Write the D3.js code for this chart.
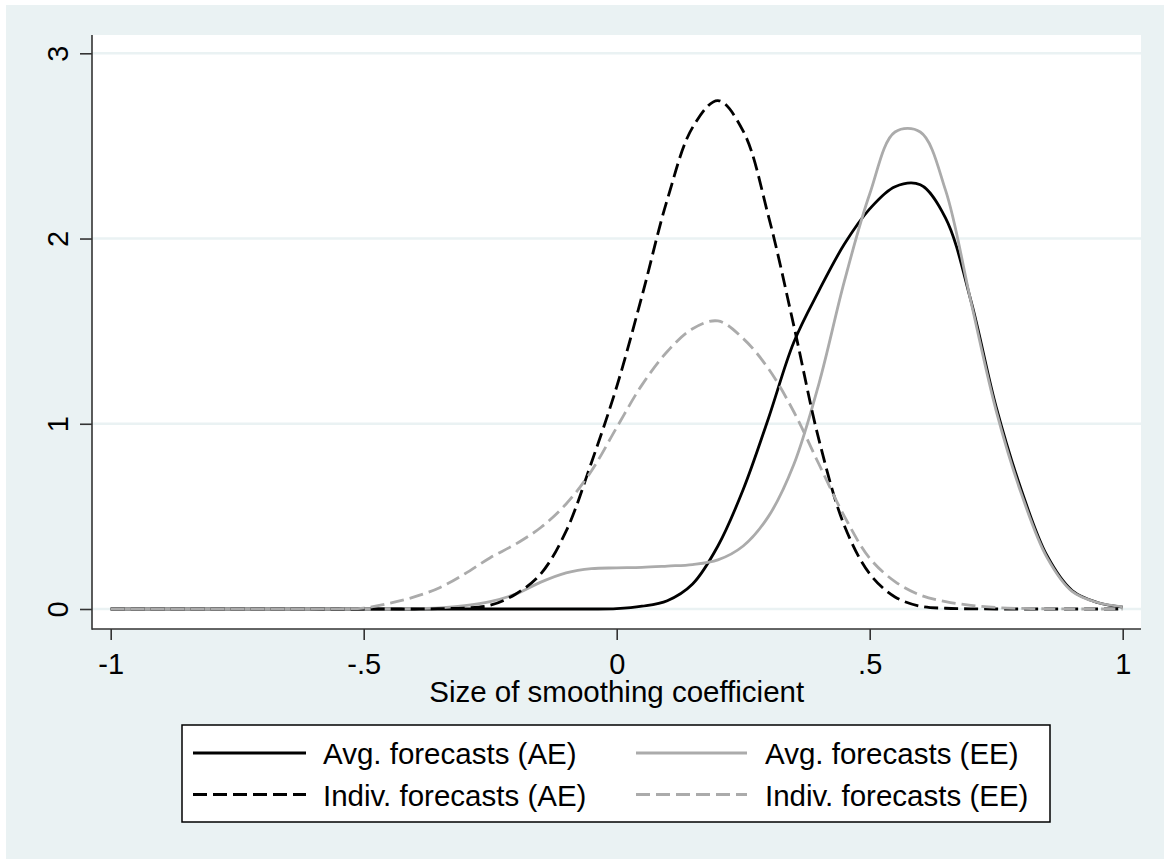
<!DOCTYPE html>
<html>
<head>
<meta charset="utf-8">
<script src="https://cdn.jsdelivr.net/npm/d3@7"></script>
<style>
html,body{margin:0;padding:0;background:#ffffff;}
svg{display:block;}
text{font-family:"Liberation Sans",Arial,Helvetica,sans-serif;fill:#000;}
</style>
</head>
<body>
<svg id="chart" width="1164" height="859"></svg>
<script>
// ---------- DATA ----------
const xGrid = [-1,-0.95,-0.9,-0.85,-0.8,-0.75,-0.7,-0.65,-0.6,-0.55,-0.5,-0.45,-0.4,-0.35,-0.3,-0.25,-0.2,-0.15,-0.1,-0.05,
  0,0.05,0.1,0.15,0.2,0.25,0.3,0.35,0.4,0.45,0.5,0.55,0.6,0.65,0.7,0.75,0.8,0.85,0.9,0.95,1];

const avgAE = [0,0,0,0,0,0,0,0,0,0,0,0,0,0,0,0,0,0,0,0,
  0.002,0.015,0.045,0.135,0.34,0.645,1.03,1.44,1.72,1.97,2.16,2.28,2.29,2.11,1.665,1.09,0.64,0.29,0.10,0.035,0.01];

const avgEE = [0,0,0,0,0,0,0,0,0,0,0,0,0.002,0.006,0.018,0.04,0.08,0.145,0.195,0.218,
  0.222,0.225,0.232,0.24,0.265,0.34,0.50,0.78,1.22,1.77,2.24,2.575,2.575,2.26,1.66,1.07,0.62,0.28,0.095,0.035,0.012];

const indivAE = [0,0,0,0,0,0,0,0,0,0,0,0,0,0.002,0.005,0.02,0.08,0.19,0.42,0.79,
  1.2,1.69,2.21,2.6,2.745,2.58,2.12,1.53,0.91,0.45,0.19,0.065,0.015,0.004,0.001,0,0,0,0,0,0];

const indivEE = [0,0,0,0,0,0,0,0,0,0.001,0.005,0.03,0.065,0.115,0.19,0.277,0.35,0.44,0.567,0.745,
  0.98,1.21,1.39,1.513,1.555,1.46,1.297,1.065,0.78,0.50,0.274,0.148,0.075,0.04,0.02,0.008,0.003,0.001,0,0,0];

const seriesNames = ["Avg. forecasts (AE)","Avg. forecasts (EE)","Indiv. forecasts (AE)","Indiv. forecasts (EE)"];

const xTickValues = [-1,-0.5,0,0.5,1];
const xTickLabels = ["-1","-.5","0",".5","1"];
const yTickValues = [0,1,2,3];
const yTickLabels = ["0","1","2","3"];
const xTitle = "Size of smoothing coefficient";

// ---------- LAYOUT ----------
const W = 1164, H = 859;
const plot = {left:92, right:1141, top:35, bottom:629};
const bg = "#EAF2F3";
const grey = "#ababab";
const axisColor = "#333333";
const fontSize = 29;

const svg = d3.select("#chart");

svg.append("rect").attr("x",6).attr("y",5).attr("width",W-6).attr("height",H-5).attr("fill",bg);
svg.append("rect").attr("x",plot.left).attr("y",plot.top)
  .attr("width",plot.right-plot.left).attr("height",plot.bottom-plot.top).attr("fill","#ffffff");

const x = d3.scaleLinear().domain([-1,1]).range([110.7,1122.7]);
const y = d3.scaleLinear().domain([0,3]).range([609,53.3]);

// gridlines
svg.append("g").selectAll("line").data(yTickValues).join("line")
  .attr("x1",plot.left).attr("x2",plot.right)
  .attr("y1",d=>y(d)).attr("y2",d=>y(d))
  .attr("stroke",bg).attr("stroke-width",2.5);

// curves
const specs = [
  {vals:avgAE, color:"#000000", dash:null},
  {vals:avgEE, color:grey, dash:null},
  {vals:indivAE, color:"#000000", dash:"14,6"},
  {vals:indivEE, color:grey, dash:"14,6"}
];
const line = d3.line()
  .x(d=>x(d[0])).y(d=>y(d[1]))
  .curve(d3.curveCatmullRom.alpha(0.5));

specs.forEach(s=>{
  svg.append("path")
    .datum(xGrid.map((v,i)=>[v,s.vals[i]]))
    .attr("d",line)
    .attr("fill","none")
    .attr("stroke",s.color)
    .attr("stroke-width",2.8)
    .attr("stroke-linejoin","round")
    .attr("stroke-dasharray",s.dash);
});

// axes
const xAxis = d3.axisBottom(x).tickValues(xTickValues)
  .tickFormat((d,i)=>xTickLabels[i]).tickSize(11).tickSizeOuter(0);
const gx = svg.append("g").attr("transform",`translate(0,${plot.bottom})`).call(xAxis);
gx.select(".domain").remove();
gx.selectAll(".tick line").attr("stroke",axisColor).attr("stroke-width",1.6);
gx.selectAll(".tick text").attr("y",45).attr("dy",0)
  .style("font-size",fontSize+"px").style("font-family",'"Liberation Sans",Arial,sans-serif').attr("fill","#000");

const yAxis = d3.axisLeft(y).tickValues(yTickValues)
  .tickFormat((d,i)=>yTickLabels[i]).tickSize(12).tickSizeOuter(0);
const gy = svg.append("g").attr("transform",`translate(${plot.left},0)`).call(yAxis);
gy.select(".domain").remove();
gy.selectAll(".tick line").attr("stroke",axisColor).attr("stroke-width",1.6);
gy.selectAll(".tick text")
  .attr("x",0).attr("y",-24).attr("dy",0)
  .attr("transform","rotate(-90)")
  .attr("text-anchor","middle")
  .style("font-size",fontSize+"px").style("font-family",'"Liberation Sans",Arial,sans-serif').attr("fill","#000");

// axis lines
svg.append("line").attr("x1",plot.left).attr("x2",plot.left).attr("y1",plot.top).attr("y2",plot.bottom+0.8)
  .attr("stroke",axisColor).attr("stroke-width",1.6);
svg.append("line").attr("x1",plot.left).attr("x2",plot.right).attr("y1",plot.bottom).attr("y2",plot.bottom)
  .attr("stroke",axisColor).attr("stroke-width",1.6);

// axis title
svg.append("text").attr("x",(x(-1)+x(1))/2).attr("y",702)
  .attr("text-anchor","middle").style("font-size","29.5px").text(xTitle);

// legend
const lg = svg.append("g");
lg.append("rect").attr("x",182).attr("y",725).attr("width",868).attr("height",97)
  .attr("fill","#ffffff").attr("stroke","#000").attr("stroke-width",1.5);
const legendPos = [
  {col:0,row:0,spec:specs[0],name:seriesNames[0]},
  {col:1,row:0,spec:specs[1],name:seriesNames[1]},
  {col:0,row:1,spec:specs[2],name:seriesNames[2]},
  {col:1,row:1,spec:specs[3],name:seriesNames[3]}
];
const colLine = [[193,306],[636,747]];
const colText = [323,765];
const rowLineY = [753,794.5];
const rowTextY = [764,805.5];
legendPos.forEach(e=>{
  lg.append("line")
    .attr("x1",colLine[e.col][0]).attr("x2",colLine[e.col][1])
    .attr("y1",rowLineY[e.row]).attr("y2",rowLineY[e.row])
    .attr("stroke",e.spec.color).attr("stroke-width",2.8)
    .attr("stroke-dasharray",e.spec.dash);
  lg.append("text").attr("x",colText[e.col]).attr("y",rowTextY[e.row])
    .style("font-size","29.5px").text(e.name);
});
</script>
</body>
</html>
